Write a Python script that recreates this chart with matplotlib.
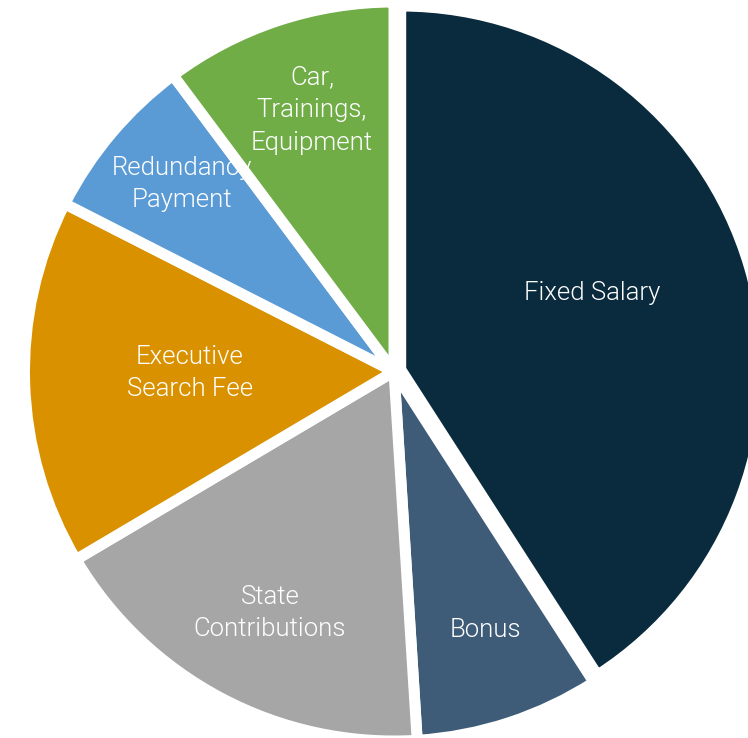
import matplotlib
matplotlib.use("Agg")
import matplotlib.pyplot as plt

categories = ["Fixed Salary", "Bonus", "State\nContributions", "Executive\nSearch Fee",
              "Redundancy\nPayment", "Car,\nTrainings,\nEquipment"]
shares = [40.9, 8.1, 17.5, 16.0, 7.3, 10.2]
colors = ["#0a2b3e", "#3e5c78", "#a6a6a6", "#d99100", "#5b9bd5", "#70ad47"]

W, H = 748, 738
fig = plt.figure(figsize=(W / 100, H / 100), dpi=100)
ax = fig.add_axes([0, 0, 1, 1])

cx, cy, R = 394, H - 371.5, 369.5
explode = [7, 0, 0, 0, 0, 0]
wedges, _ = ax.pie(shares, colors=colors, startangle=90, counterclock=False,
                   center=(cx, cy), radius=R, explode=explode,
                   wedgeprops=dict(edgecolor="white", linewidth=7.9), frame=True)
wedges[0].set_radius(R - 6)
ax.set_xlim(0, W)
ax.set_ylim(0, H)
ax.set_aspect("equal")
ax.axis("off")

label_pos = [(592, 293), (485, 630), (270, 613), (190, 373), (182, 184), (312, 110)]
for txt, (x, y) in zip(categories, label_pos):
    ax.text(x, H - y, txt, ha="center", va="center", color="white",
            fontsize=18.5, family="Roboto", fontweight=300, linespacing=1.45)

fig.savefig("out.png", dpi=100)
